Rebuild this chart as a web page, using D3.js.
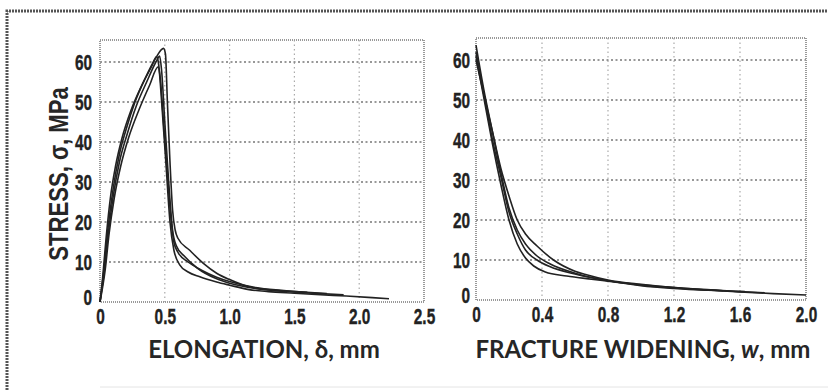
<!DOCTYPE html>
<html>
<head>
<meta charset="utf-8">
<script src="https://cdn.jsdelivr.net/npm/d3@7"></script>
<style>
  body { margin: 0; background: #fff; }
  svg { display: block; }
  .tick text { font-family: "Liberation Sans", Arial, sans-serif; font-weight: bold; font-size: 22px; fill: #222; stroke: #222; stroke-width: 0.4px; }
  .title { font-family: Lato, "Open Sans", sans-serif; font-weight: bold; font-size: 24px; fill: #262626; }
  .ytitle { font-family: "Liberation Sans", Arial, sans-serif; font-weight: bold; font-size: 28px; fill: #262626; }
</style>
</head>
<body>
<svg id="chart" width="828" height="390"></svg>
<script>
// elongation panel: four specimens, [delta mm, stress MPa]
var elongA = [[0,0],[0.03,8],[0.06,18],[0.10,28],[0.15,37],[0.20,43],[0.27,50],[0.35,56],[0.43,61],[0.49,63.4],[0.505,62],[0.52,50],[0.54,35],[0.56,23],[0.58,18],[0.60,16],[0.69,13],[0.80,9.6],[0.90,7.2],[1.0,5.6],[1.15,3.8],[1.3,3.0],[1.5,2.5],[1.7,2.1],[1.88,1.8]];
var elongB = [[0,0],[0.02,6],[0.05,17],[0.08,26],[0.12,34],[0.17,41],[0.24,48],[0.32,54],[0.40,59],[0.436,61.3],[0.45,60],[0.48,48],[0.51,34],[0.54,20],[0.57,13],[0.615,9.3],[0.68,7.5],[0.77,6.3],[0.90,5],[1.0,4.2],[1.15,3.1],[1.3,2.6],[1.5,2.2],[1.7,1.8],[1.9,1.5],[2.1,1.1],[2.23,0.8]];
var elongC = [[0,0],[0.03,7],[0.06,16],[0.10,26],[0.15,35],[0.21,42],[0.28,49],[0.36,55],[0.44,60.5],[0.46,61.5],[0.475,58],[0.50,45],[0.53,30],[0.56,18],[0.59,14],[0.65,11.5],[0.75,8.5],[0.9,5.8],[1.0,4.7],[1.2,3.4],[1.5,2.6],[1.75,2.1]];
var elongD = [[0,0],[0.04,8],[0.07,17],[0.11,26],[0.16,34],[0.22,41],[0.30,48],[0.38,54],[0.45,58.8],[0.465,56],[0.49,45],[0.52,32],[0.55,20],[0.57,15],[0.60,12.5],[0.68,10],[0.78,8],[0.9,6.2],[1.0,5.1],[1.2,3.6],[1.4,2.9],[1.6,2.4]];

// fracture widening panel: four specimens, [w mm, stress MPa]
var widenA = [[0,61],[0.05,50],[0.10,39],[0.15,29],[0.20,20],[0.25,14],[0.30,10.5],[0.35,8.5],[0.42,7],[0.55,6],[0.70,5.2],[0.80,4.7],[1.0,3.7],[1.2,3.0],[1.4,2.5],[1.63,2.1]];
var widenB = [[0,63.7],[0.05,52],[0.10,42],[0.15,32],[0.20,23],[0.25,17.5],[0.30,14],[0.37,11],[0.45,9],[0.60,6.7],[0.80,4.8],[1.0,3.8],[1.2,3.1],[1.4,2.5],[1.6,2.0],[1.8,1.6],[2.0,1.25]];
var widenC = [[0,60],[0.05,51],[0.10,42],[0.15,33],[0.20,26],[0.25,20],[0.30,16.5],[0.37,13.5],[0.47,10],[0.60,7.2],[0.67,6.3],[0.80,5],[1.0,3.9],[1.2,3.1],[1.4,2.6],[1.6,2.1],[1.75,1.8]];
var widenD = [[0,62],[0.05,51],[0.10,40],[0.15,31],[0.20,22],[0.25,16.5],[0.30,12.5],[0.37,10],[0.45,8.3],[0.60,6.5],[0.80,4.8],[1.0,3.6],[1.2,2.9],[1.5,2.3]];

var yTicks = [0, 10, 20, 30, 40, 50, 60];
var elongTicks = [0, 0.5, 1.0, 1.5, 2.0, 2.5];
var widenTicks = [0, 0.4, 0.8, 1.2, 1.6, 2.0];

var svg = d3.select("#chart");
var SQ = 0.7; // horizontal squeeze, the original uses a condensed face

// scanned page frame
svg.append("path")
  .attr("d", "M7,390 L7,11 L828,11")
  .attr("fill", "none")
  .attr("stroke", "#555")
  .attr("stroke-width", 3)
  .attr("stroke-dasharray", "2,1");
svg.append("line")
  .attr("x1", 100).attr("x2", 828).attr("y1", 387).attr("y2", 387)
  .attr("stroke", "#e4e4e4").attr("stroke-width", 1);

var fmt = function(d) { return d === 0 ? "0" : d3.format(".1f")(d); };

function panel(opt) {
  var x = d3.scaleLinear().domain(opt.xDomain).range([opt.left, opt.right]);
  var y = d3.scaleLinear().domain([0, 65.5]).range([opt.bottom, opt.top]);
  var g = svg.append("g");

  // grid
  g.append("g").selectAll("line")
    .data(opt.xTicks.slice(1, -1))
    .enter().append("line")
    .attr("x1", d => x(d)).attr("x2", d => x(d))
    .attr("y1", opt.top).attr("y2", opt.bottom)
    .attr("stroke", "#aaa").attr("stroke-width", 1.2)
    .attr("stroke-dasharray", "1.5,3");
  g.append("g").selectAll("line")
    .data(yTicks.slice(1))
    .enter().append("line")
    .attr("x1", opt.left).attr("x2", opt.right)
    .attr("y1", d => y(d)).attr("y2", d => y(d))
    .attr("stroke", "#777").attr("stroke-width", 1.3)
    .attr("stroke-dasharray", "2,2.5");

  // box
  g.append("rect")
    .attr("x", opt.left).attr("y", opt.top)
    .attr("width", opt.right - opt.left).attr("height", opt.bottom - opt.top)
    .attr("fill", "none")
    .attr("stroke", "#999").attr("stroke-width", 2)
    .attr("stroke-dasharray", "1,1");

  var ax = g.append("g")
    .attr("transform", "translate(0," + opt.bottom + ")")
    .call(d3.axisBottom(x).tickValues(opt.xTicks).tickFormat(fmt).tickSize(0).tickPadding(6));
  ax.select(".domain").remove();
  ax.selectAll("text").attr("dy", "0.71em").attr("transform", "scale(" + SQ + ",1)");

  var ay = g.append("g")
    .attr("transform", "translate(" + opt.left + ",0)")
    .call(d3.axisLeft(y).tickValues(yTicks).tickFormat(d3.format("d")).tickSize(0));
  ay.select(".domain").remove();
  ay.selectAll("text")
    .attr("x", -opt.yPad / SQ)
    .attr("transform", "scale(" + SQ + ",1)");
  ay.selectAll(".tick").filter(d => d === 0).select("text").attr("dy", "0.1em");

  var line = d3.line()
    .x(d => x(d[0])).y(d => y(d[1]))
    .curve(d3.curveMonotoneX);

  g.append("g").selectAll("path")
    .data(opt.series)
    .enter().append("path")
    .attr("d", line)
    .attr("fill", "none")
    .attr("stroke", "#222")
    .attr("stroke-width", 1.6);
}

panel({ xDomain: [0, 2.5], left: 100, right: 424, top: 40, bottom: 302,
  xTicks: elongTicks, series: [elongA, elongB, elongC, elongD], yPad: 8 });
panel({ xDomain: [0, 2.0], left: 476, right: 806, top: 38, bottom: 300,
  xTicks: widenTicks, series: [widenA, widenB, widenC, widenD], yPad: 6 });

// titles
svg.append("text").attr("class", "title")
  .attr("x", 264).attr("y", 358).attr("text-anchor", "middle")
  .text("ELONGATION, δ, mm");

var t2 = svg.append("text").attr("class", "title")
  .attr("x", 643).attr("y", 358).attr("text-anchor", "middle");
t2.append("tspan").text("FRACTURE WIDENING, ");
t2.append("tspan").attr("font-style", "italic").text("w");
t2.append("tspan").text(", mm");

svg.append("text").attr("class", "ytitle")
  .attr("transform", "translate(68,174) rotate(-90) scale(0.79,1)")
  .attr("text-anchor", "middle")
  .text("STRESS, σ, MPa");
</script>
</body>
</html>
